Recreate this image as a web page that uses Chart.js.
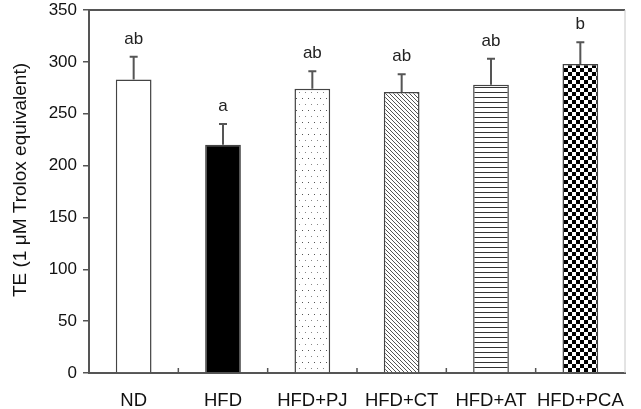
<!DOCTYPE html>
<html>
<head>
<meta charset="utf-8">
<script src="https://cdn.jsdelivr.net/npm/chart.js@4"></script>
<style>
  body { margin: 0; background: #fff; }
  canvas { display: block; }
</style>
</head>
<body>
<canvas id="teChart" width="641" height="409"></canvas>
<script>
// values
const groups = ['ND', 'HFD', 'HFD+PJ', 'HFD+CT', 'HFD+AT', 'HFD+PCA'];
const meanTE = [283, 220, 274, 271, 278, 298];
const errTE = [22, 20, 17, 17, 25, 21];
const sigLetters = ['ab', 'a', 'ab', 'ab', 'ab', 'b'];
const yTicks = [0, 50, 100, 150, 200, 250, 300, 350];
const yTitle = 'TE (1 μM Trolox equivalent)';

const FONT = 'Arial, "Liberation Sans", sans-serif';

function makePattern(w, h, draw) {
    const c = document.createElement('canvas');
    c.width = w;
    c.height = h;
    const g = c.getContext('2d');
    g.fillStyle = '#fff';
    g.fillRect(0, 0, w, h);
    draw(g);
    return c.getContext('2d').createPattern(c, 'repeat');
}

const dotFill = makePattern(6, 12, g => {
    g.fillStyle = '#555';
    g.fillRect(2, 2, 1, 1);
    g.fillStyle = '#888';
    g.fillRect(5, 8, 1, 1);
});
const diagFill = makePattern(4, 4, g => {
    g.strokeStyle = '#555';
    g.lineWidth = 1;
    g.beginPath();
    g.moveTo(-1, -1); g.lineTo(5, 5);
    g.moveTo(-1, 3); g.lineTo(1, 5);
    g.moveTo(3, -1); g.lineTo(5, 1);
    g.stroke();
});
const hlineFill = makePattern(5, 5, g => {
    g.fillStyle = '#333';
    g.fillRect(0, 2, 5, 1);
});
const checkFill = makePattern(8, 8, g => {
    g.fillStyle = '#000';
    g.fillRect(0, 0, 4, 4);
    g.fillRect(4, 4, 4, 4);
});

const barFills = ['#fff', '#000', dotFill, diagFill, hlineFill, checkFill];

const extras = {
    id: 'extras',
    afterDatasetsDraw(chart) {
        const ctx = chart.ctx;
        const area = chart.chartArea;
        const x = chart.scales.x;
        const y = chart.scales.y;
        ctx.save();

        // frame: dark top line, light right line
        ctx.strokeStyle = '#555';
        ctx.lineWidth = 2;
        ctx.beginPath();
        ctx.moveTo(area.left, area.top);
        ctx.lineTo(area.right, area.top);
        ctx.stroke();
        ctx.strokeStyle = '#c8c8c8';
        ctx.lineWidth = 1;
        ctx.beginPath();
        ctx.moveTo(area.right, area.top);
        ctx.lineTo(area.right, area.bottom);
        ctx.stroke();

        // inward tick marks between categories
        ctx.strokeStyle = '#555';
        ctx.lineWidth = 1.5;
        for (let i = 0; i < groups.length - 1; i++) {
            const px = (x.getPixelForValue(i) + x.getPixelForValue(i + 1)) / 2;
            ctx.beginPath();
            ctx.moveTo(px, area.bottom);
            ctx.lineTo(px, area.bottom - 5);
            ctx.stroke();
        }

        // error bars and letters
        const meta = chart.getDatasetMeta(0);
        ctx.font = '17px ' + FONT;
        ctx.textAlign = 'center';
        ctx.textBaseline = 'alphabetic';
        meta.data.forEach((bar, i) => {
            const top = y.getPixelForValue(meanTE[i]);
            const hi = y.getPixelForValue(meanTE[i] + errTE[i]);
            ctx.strokeStyle = '#555';
            ctx.lineWidth = 2;
            ctx.beginPath();
            ctx.moveTo(bar.x, top);
            ctx.lineTo(bar.x, hi);
            ctx.moveTo(bar.x - 4, hi);
            ctx.lineTo(bar.x + 4, hi);
            ctx.stroke();
            ctx.fillStyle = '#222';
            ctx.fillText(sigLetters[i], bar.x, hi - 13);
        });

        // y axis title
        ctx.translate(21, 180);
        ctx.rotate(-Math.PI / 2);
        ctx.font = '19px ' + FONT;
        ctx.textBaseline = 'middle';
        ctx.fillStyle = '#111';
        ctx.fillText(yTitle, 0, 0);
        ctx.restore();
    }
};

Chart.defaults.font.family = FONT;
Chart.defaults.color = '#111';

new Chart(document.getElementById('teChart').getContext('2d'), {
    type: 'bar',
    data: {
        labels: groups,
        datasets: [{
            data: meanTE,
            backgroundColor: barFills,
            borderColor: '#444',
            borderWidth: 1.5,
            categoryPercentage: 1,
            barPercentage: 0.4
        }]
    },
    options: {
        responsive: false,
        animation: false,
        layout: { padding: { top: 10, right: 16, left: 0, bottom: 0 } },
        plugins: {
            legend: { display: false },
            tooltip: { enabled: false }
        },
        scales: {
            x: {
                grid: { display: false, drawTicks: false },
                border: { display: true, color: '#555', width: 2 },
                ticks: { padding: 17, font: { size: 18.5 }, maxRotation: 0, minRotation: 0, autoSkip: false },
                afterFit: s => {
                    s.height = 36;
                    s.paddingLeft = 0;
                    s.paddingRight = 0;
                }
            },
            y: {
                min: 0,
                max: 350,
                afterBuildTicks: s => { s.ticks = yTicks.map(v => ({ value: v })); },
                grid: { drawOnChartArea: false, drawTicks: true, tickLength: 6, color: '#555', lineWidth: 1.5 },
                border: { display: true, color: '#555', width: 2 },
                ticks: { padding: 6, font: { size: 17 } },
                afterFit: s => {
                    s.width = 89;
                    s.paddingTop = 0;
                    s.paddingBottom = 0;
                }
            }
        }
    },
    plugins: [extras]
});
</script>
</body>
</html>
